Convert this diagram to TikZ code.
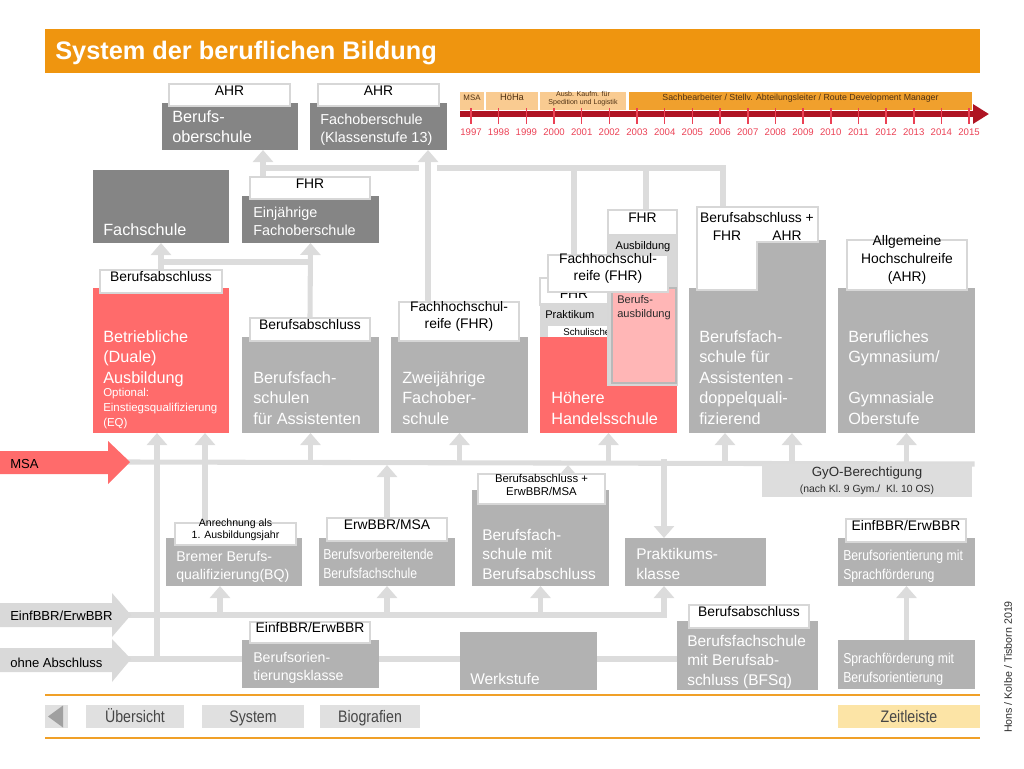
\documentclass[tikz,border=0pt]{standalone}
\usepackage{fontspec}
\setmainfont{Liberation Sans}
\newfontfamily\narrowfont[FakeStretch=0.85]{Liberation Sans}
\usetikzlibrary{arrows.meta,fit,backgrounds}

\definecolor{titleorange}{RGB}{239,149,15}
\definecolor{boxdark}{RGB}{133,133,133}
\definecolor{boxmid}{RGB}{178,178,178}
\definecolor{boxred}{RGB}{255,107,107}
\definecolor{boxpink}{RGB}{255,182,182}
\definecolor{pinkline}{RGB}{185,185,185}
\definecolor{connline}{RGB}{220,220,220}
\definecolor{lblline}{RGB}{215,215,215}
\definecolor{stackgray}{RGB}{216,216,216}
\definecolor{arrgray}{RGB}{217,217,217}
\definecolor{tlred}{RGB}{175,20,35}
\definecolor{tlpink}{RGB}{235,65,85}
\definecolor{tllight}{RGB}{249,203,145}
\definecolor{tldark}{RGB}{240,160,45}
\definecolor{tltext}{RGB}{80,50,20}
\definecolor{navgray}{RGB}{224,224,224}
\definecolor{navtri}{RGB}{160,160,160}
\definecolor{navyellow}{RGB}{252,228,166}
\definecolor{navorange}{RGB}{240,160,40}
\definecolor{navtext}{RGB}{70,70,70}
\definecolor{gyogray}{RGB}{221,221,221}
\definecolor{darktext}{RGB}{45,45,45}

\newcommand\ftitle{\bfseries\fontsize{19}{22}\selectfont}
\newcommand\fmain{\fontsize{12.2}{15.3}\selectfont}
\newcommand\fmaintight{\fontsize{12.2}{14.3}\selectfont}
\newcommand\fmid{\fontsize{10.8}{12.8}\selectfont}
\newcommand\fsmall{\fontsize{8.6}{10.9}\selectfont}
\newcommand\ftiny{\fontsize{8.3}{10.5}\selectfont}
\newcommand\flbl{\fontsize{10.4}{13.3}\selectfont}
\newcommand\flow{\fontsize{10.6}{12.8}\selectfont}
\newcommand\flowb{\fontsize{11.6}{14.4}\selectfont}
\newcommand\fnarrow{\narrowfont\fontsize{10.8}{13.8}\selectfont}
\newcommand\fnav{\narrowfont\fontsize{12.5}{14}\selectfont}
\newcommand\fanr{\fontsize{7.9}{8.9}\selectfont}
\newcommand\fbfsl{\fontsize{8.5}{10}\selectfont}
\newcommand\farr{\fontsize{9.8}{12}\selectfont}

\tikzset{
	plainbox/.style={inner sep=0pt, outer sep=0pt},
	darkbox/.style={plainbox, fill=boxdark},
	midbox/.style={plainbox, fill=boxmid},
	redbox/.style={plainbox, fill=boxred},
	lbl/.style={plainbox, fill=white, draw=lblline, line width=1.5pt, align=center, font=\flbl},
	boxtxt/.style={inner sep=0pt, text=white, align=left, anchor=base west},
	arrtxt/.style={inner sep=0pt, anchor=base west, font=\farr},
	conn/.style={draw=connline, line width=3.8pt, line cap=rect},
	arr/.style={conn, -{Triangle[width=15pt,length=9pt]}},
	tlseg/.style={plainbox, text=tltext, align=center},
	tlarrow/.style={draw=tlred, line width=3.8pt, -{Triangle[width=14pt,length=12pt]}},
	tickline/.style={draw=tlpink, line width=1.2pt},
	yearlbl/.style={inner sep=0pt, text=tlpink, font=\fontsize{7.2}{8}\selectfont},
	navbtn/.style={plainbox, fill=navgray},
	navtxt/.style={inner sep=0pt, anchor=base, font=\fnav, text=navtext},
	navline/.style={draw=navorange, line width=1.5pt}
}

\begin{document}
\begin{tikzpicture}[x=0.75pt,y=-0.75pt]
	\useasboundingbox (0,0) rectangle (1024,768);

	% title
	\node (title) [plainbox, fill=titleorange, fit={(45,29)(980,73)}] {};
	\node (titletxt) [anchor=base west, inner sep=0pt, text=white, font=\ftitle] at (55,59) {System der beruflichen Bildung};

	% timeline
	\node (tmsa) [tlseg, fill=tllight, font=\fontsize{5.9}{7}\selectfont, fit={(460,92)(484,110)}] {MSA};
	\node (thoha) [tlseg, fill=tllight, font=\fontsize{7}{8}\selectfont, fit={(486,92)(538,110)}] {HöHa};
	\node (tausb) [tlseg, fill=tllight, font=\fontsize{5.3}{6.4}\selectfont, fit={(540,92)(626,110)}] {Ausb. Kaufm. für\\Spedition und Logistik};
	\node (tsach) [tlseg, fill=tldark, font=\fontsize{6.6}{8}\selectfont, fit={(629,92)(972,110)}] {Sachbearbeiter / Stellv. Abteilungsleiter / Route Development Manager};
	\draw[tlarrow] (460,114) -- (989,114);
	\foreach \yr [count=\i from 0] in {1997,...,2015} {
		\draw[tickline] (471+27.67*\i,108) -- (471+27.67*\i,124);
		\node (yr\yr) [yearlbl] at (471+27.67*\i,132) {\yr};
	}

	% upper rows
	\node (bos) [darkbox, fit={(162,103)(298,150)}] {};
	\node (bosl) [lbl, fit={(169,84)(290,106)}] {AHR};
	\node (bost) [boxtxt, font=\fmaintight] at (172,142) {Berufs-\\oberschule};
	\node (fos) [darkbox, fit={(310,103)(447,150)}] {};
	\node (fosl) [lbl, fit={(318,84)(439,106)}] {AHR};
	\node (fost) [boxtxt, font=\fmid] at (320,142) {Fachoberschule\\(Klassenstufe 13)};
	\node (fs) [darkbox, fit={(93,170)(229,243)}] {};
	\node (fst) [boxtxt, font=\fmain] at (103,235) {Fachschule};
	\node (efo) [darkbox, fit={(242,196)(379,243)}] {};
	\node (efl) [lbl, fit={(250,177)(370,199)}] {FHR};
	\node (efot) [boxtxt, font=\fmid] at (253,235) {Einjährige\\Fachoberschule};

	% main row
	\node (bda) [redbox, fit={(93,288)(229,433)}] {};
	\node (bdl) [lbl, fit={(100,270)(222,293)}] {Berufsabschluss};
	\node (bdat) [boxtxt, font=\fmain] at (103,383) {Betriebliche\\(Duale)\\Ausbildung};
	\node (bdas) [boxtxt, font=\fsmall] at (103,426) {Optional:\\Einstiegsqualifizierung\\(EQ)};
	\node (bfa) [midbox, fit={(242,337)(379,433)}] {};
	\node (bfal) [lbl, fit={(250,318)(370,341)}] {Berufsabschluss};
	\node (bfat) [boxtxt, font=\fmain] at (253,424) {Berufsfach-\\schulen\\für Assistenten};
	\node (zfo) [midbox, fit={(391,337)(528,433)}] {};
	\node (zfl) [lbl, fit={(399,302)(519,341)}] {Fachhochschul-\\reife (FHR)};
	\node (zfot) [boxtxt, font=\fmain] at (402,424) {Zweijährige\\Fachober-\\schule};

	% Hoehere Handelsschule
	\node (hhx) [plainbox, fill=white, draw=lblline, line width=1.5pt, fit={(540,278)(608,305)}] {};
	\node (hhxt) [inner sep=0pt, font=\flbl] at (574,294) {FHR};
	\node (hhp) [plainbox, fill=stackgray, fit={(540,303)(610,337)}] {};
	\node (hhpt) [anchor=base west, inner sep=0pt, font=\ftiny] at (545,318) {Praktikum};
	\node (hhw) [plainbox, fill=white, fit={(548,326)(612,337)}] {};
	\node (hhwt) [anchor=base west, inner sep=0pt, font=\fontsize{7.3}{8}\selectfont] at (563,335) {Schulische};
	\node (hhs) [redbox, fit={(540,337)(677,433)}] {};
	\node (hhst) [boxtxt, font=\fmain] at (551,424) {Höhere\\Handelsschule};
	\node (hha) [plainbox, fill=stackgray, draw=lblline, line width=0.8pt, fit={(608,235)(677,385)}] {};
	\node (hhat) [inner sep=0pt, font=\ftiny] at (643,247) {Ausbildung};
	\node (hhb) [plainbox, fill=boxpink, draw=pinkline, line width=1pt, fit={(612,288)(676,383)}] {};
	\node (hhbt) [boxtxt, text=darktext, font=\ftiny] at (617,317) {Berufs-\\ausbildung};
	\node (hhfl) [lbl, fit={(608,210)(677,235)}] {FHR};
	\node (hhfhl) [lbl, fit={(548,255)(668,292)}] {Fachhochschul-\\reife (FHR)};

	% Berufsfachschule doppelqualifizierend
	\node (bfd) [midbox, fit={(689,288)(826,433)}] {};
	\fill[boxmid] (757,240) rectangle (826,288);
	\filldraw[fill=white, draw=lblline, line width=1.5pt] (697,207) -- (818,207) -- (818,242) -- (757,242) -- (757,290) -- (697,290) -- cycle;
	\node (bfdl) [inner sep=0pt, font=\flbl] at (757,218) {Berufsabschluss +};
	\node (bfdf) [inner sep=0pt, font=\flbl] at (727,236) {FHR};
	\node (bfdh) [inner sep=0pt, font=\flbl] at (787,236) {AHR};
	\coordinate (bfdtop) at (723,207);
	\node (bfdt) [boxtxt, font=\fmain] at (699,424) {Berufsfach-\\schule für\\Assistenten -\\doppelquali-\\fizierend};

	% Gymnasium
	\node (gym) [midbox, fit={(838,288)(975,433)}] {};
	\node (gyml) [lbl, fit={(847,240)(967,290)}] {Allgemeine\\Hochschulreife\\(AHR)};
	\node (gymt) [boxtxt, font=\fmain] at (848,424) {Berufliches\\Gymnasium/\\[15.3pt]Gymnasiale\\Oberstufe};
	\node (gyo) [plainbox, fill=gyogray, fit={(762,464)(972,497)}] {};
	\node (gyot) [inner sep=0pt, align=center, anchor=base, text=darktext, font=\fontsize{10}{11.3}\selectfont] at (867,492) {GyO-Berechtigung\\{\fontsize{7.8}{9}\selectfont (nach Kl.~9 Gym./\ \ Kl.~10 OS)}};

	% entry arrows
	\fill[boxred] (0,451) -- (108,451) -- (108,441) -- (130,462) -- (108,484) -- (108,474) -- (0,474) -- cycle;
	\coordinate (msatip) at (130,462);
	\coordinate (msabot) at (130,465);
	\node (msat) [arrtxt] at (10,468) {MSA};
	\fill[arrgray] (0,603) -- (112,603) -- (112,593) -- (131,615) -- (112,637) -- (112,627) -- (0,627) -- cycle;
	\coordinate (einftip) at (131,615);
	\node (einft) [arrtxt] at (10,620) {EinfBBR/ErwBBR};
	\fill[arrgray] (0,648) -- (112,648) -- (112,639) -- (131,659) -- (112,682) -- (112,672) -- (0,672) -- cycle;
	\coordinate (ohnetip) at (131,659);
	\node (ohnet) [arrtxt] at (10,667) {ohne Abschluss};

	% lower rows
	\node (bq) [midbox, fit={(166,538)(302,586)}] {};
	\node (bql) [lbl, font=\fanr, fit={(175,523)(296,545)}] {Anrechnung als\\1. Ausbildungsjahr};
	\node (bqt) [boxtxt, font=\flow] at (176,579) {Bremer Berufs-\\qualifizierung(BQ)};
	\node (bvb) [midbox, fit={(319,538)(455,586)}] {};
	\node (bvbl) [lbl, fit={(327,518)(447,541)}] {ErwBBR/MSA};
	\node (bvbt) [boxtxt, font=\fnarrow] at (323,578) {Berufsvorbereitende\\Berufsfachschule};
	\node (bfs) [midbox, fit={(472,490)(609,586)}] {};
	\node (bfsl) [lbl, font=\fbfsl, fit={(478,474)(605,504)}] {Berufsabschluss +\\ErwBBR/MSA};
	\node (bfst) [boxtxt, font=\flowb] at (482,579) {Berufsfach-\\schule mit\\Berufsabschluss};
	\node (pk) [midbox, fit={(625,538)(766,586)}] {};
	\node (pkt) [boxtxt, font=\flowb] at (636,579) {Praktikums-\\klasse};
	\node (bso) [midbox, fit={(838,538)(975,586)}] {};
	\node (bsol) [lbl, fit={(846,519)(966,542)}] {EinfBBR/ErwBBR};
	\node (bsot) [boxtxt, font=\fnarrow] at (843,579) {Berufsorientierung mit\\Sprachförderung};
	\node (spf) [midbox, fit={(838,640)(975,689)}] {};
	\node (spft) [boxtxt, font=\fnarrow] at (843,682) {Sprachförderung mit\\Berufsorientierung};
	\node (bok) [midbox, fit={(242,640)(379,688)}] {};
	\node (bokl) [lbl, fit={(250,622)(370,643)}] {EinfBBR/ErwBBR};
	\node (bokt) [boxtxt, font=\flow] at (253,680) {Berufsorien-\\tierungsklasse};
	\node (wst) [midbox, fit={(460,632)(597,690)}] {};
	\node (wstt) [boxtxt, font=\flowb] at (470,684) {Werkstufe};
	\node (bsq) [midbox, fit={(677,621)(818,690)}] {};
	\node (bsql) [lbl, fit={(689,605)(809,628)}] {Berufsabschluss};
	\node (bsqt) [boxtxt, font=\flowb] at (687,685) {Berufsfachschule\\mit Berufsab-\\schluss (BFSq)};

	% connectors
	\begin{scope}[on background layer]
		\coordinate (fobus) at (263,168);
		\coordinate (fobusgl) at (416,168);
		\coordinate (fobusgr) at (440,168);
		\coordinate (fsbus) at (161,262);
		\draw[arr] (efl.north -| fobus) -- (bos.south -| fobus);
		\draw[conn] (fobus) -- (fobusgl);
		\draw[conn] (fobusgr) -| (bfdtop);
		\draw[conn] (hhfhl.north -| 574,0) -- (fobus -| 574,0);
		\draw[conn] (hhfl.north -| 646,0) -- (fobus -| 646,0);
		\draw[arr] (zfl.north -| 428,0) -- (fos.south -| 428,0);
		\draw[arr] (bdl.north) -- (fs.south);
		\draw[arr] (bfal.north) -- (efo.south);
		\draw[conn] (fsbus) -- (fsbus -| bfal.north);

		\draw[conn] (msatip) -- (gyo.north east);
		\foreach \to in {bfa,zfo,hhs,gym}
			\draw[arr] (msatip -| \to.south) -- (\to.south);
		\draw[arr] (msatip -| 725,0) -- (bfd.south -| 725,0);
		\draw[arr] (msatip -| 792,0) -- (bfd.south -| 792,0);
		\draw[arr] (bql.north -| 205,0) -- (bda.south -| 205,0);
		\draw[arr] (ohnetip -| 157,0) -- (bda.south -| 157,0);
		\draw[arr] (bvbl.north) -- (msabot -| bvbl.north);
		\draw[arr] (bfsl.north -| 568,0) -- (msabot -| 568,0);
		\draw[arr] (msatip -| 664,0) -- (pk.north -| 664,0);

		\draw[arr] (einftip) -| (pk.south -| 664,0);
		\draw[arr] (einftip -| 220,0) -- (bq.south -| 220,0);
		\draw[arr] (einftip -| bvb.south) -- (bvb.south);
		\draw[arr] (einftip -| bfs.south) -- (bfs.south);

		\draw[conn] (ohnetip) -- (ohnetip -| bok.west);
		\draw[conn] (ohnetip -| bok.east) -- (ohnetip -| wst.west);
		\draw[conn] (ohnetip -| wst.east) -- (ohnetip -| bsq.west);
		\draw[arr] (spf.north) -- (bso.south);
	\end{scope}

	% navigation
	\draw[navline] (45,695) -- (980,695);
	\draw[navline] (45,738) -- (980,738);
	\node (navback) [navbtn, fit={(45,705)(68,728)}] {};
	\fill[navtri] (48,716.5) -- (63,705.5) -- (63,727.5) -- cycle;
	\node (nav1) [navbtn, fit={(86,705)(184,728)}] {};
	\node (nav2) [navbtn, fit={(202,705)(304,728)}] {};
	\node (nav3) [navbtn, fit={(320,705)(420,728)}] {};
	\node (nav4) [navbtn, fill=navyellow, fit={(838,705)(980,728)}] {};
	\node (nav1t) [navtxt] at (nav1.center |- 0,722) {Übersicht};
	\node (nav2t) [navtxt] at (nav2.center |- 0,722) {System};
	\node (nav3t) [navtxt] at (nav3.center |- 0,722) {Biografien};
	\node (nav4t) [navtxt] at (nav4.center |- 0,722) {Zeitleiste};

	\node (credit) [rotate=90, inner sep=0pt, text=darktext, font=\fontsize{8}{9}\selectfont] at (1008,667) {Hons / Kolbe / Tisborn 2019};
\end{tikzpicture}
\end{document}
